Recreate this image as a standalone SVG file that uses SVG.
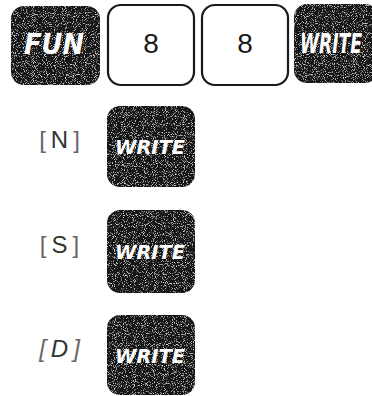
<svg xmlns="http://www.w3.org/2000/svg" width="372" height="396" viewBox="0 0 372 396">
  <defs>
    <filter id="grain" x="0" y="0" width="100%" height="100%">
      <feTurbulence type="fractalNoise" baseFrequency="1.1" numOctaves="1" seed="3" result="n"/>
      <feColorMatrix in="n" type="matrix" values="0 0 0 0 0.75  0 0 0 0 0.75  0 0 0 0 0.75  0 0 0 -4.5 2.0" result="dots"/>
      <feComposite in="dots" in2="SourceGraphic" operator="in" result="d2"/>
      <feMerge><feMergeNode in="SourceGraphic"/><feMergeNode in="d2"/></feMerge>
    </filter>
  </defs>
  <style>
    .dark { fill: #161616; }
    .light { fill: #ffffff; stroke: #1a1a1a; stroke-width: 2.2; }
    .kt { font-family: "DejaVu Sans", "Liberation Sans", sans-serif; font-weight: bold; font-style: italic; fill: #ffffff; text-anchor: middle; }
    .num { font-family: "Liberation Sans", Arial, sans-serif; font-size: 28px; fill: #1a1a1a; text-anchor: middle; }
    .lbl { font-family: "Liberation Sans", Arial, sans-serif; font-size: 24px; fill: #333333; text-anchor: middle; letter-spacing: 5px; }
    .br { fill: #666666; font-weight: normal; }
  </style>
  <g id="connectors"/>
  <g id="key-fun">
    <rect class="dark" x="11" y="6" width="89" height="79" rx="13" filter="url(#grain)"/>
    <text class="kt" x="54" y="54" font-size="28" textLength="60" lengthAdjust="spacingAndGlyphs">FUN</text>
  </g>
  <g id="key-8a">
    <rect class="light" x="108" y="5" width="86" height="80" rx="13"/>
    <text class="num" x="151" y="53">8</text>
  </g>
  <g id="key-8b">
    <rect class="light" x="202" y="5" width="86" height="80" rx="13"/>
    <text class="num" x="245" y="53">8</text>
  </g>
  <g id="key-write-top">
    <rect class="dark" x="294" y="4" width="84" height="79" rx="13" filter="url(#grain)"/>
    <text class="kt" x="331" y="53" font-size="26" textLength="62" lengthAdjust="spacingAndGlyphs">WRITE</text>
  </g>
  <g id="label-n">
    <text class="lbl" x="62" y="148"><tspan class="br">[</tspan>N<tspan class="br">]</tspan></text>
  </g>
  <g id="key-write-n">
    <rect class="dark" x="107" y="106" width="88" height="81" rx="13" filter="url(#grain)"/>
    <text class="kt" x="150" y="154" font-size="20" textLength="70" lengthAdjust="spacingAndGlyphs">WRITE</text>
  </g>
  <g id="label-s">
    <text class="lbl" x="62" y="253"><tspan class="br">[</tspan>S<tspan class="br">]</tspan></text>
  </g>
  <g id="key-write-s">
    <rect class="dark" x="107" y="210" width="88" height="83" rx="13" filter="url(#grain)"/>
    <text class="kt" x="150" y="259" font-size="20" textLength="70" lengthAdjust="spacingAndGlyphs">WRITE</text>
  </g>
  <g id="label-d">
    <text class="lbl" x="62" y="357" font-style="italic"><tspan class="br">[</tspan>D<tspan class="br">]</tspan></text>
  </g>
  <g id="key-write-d">
    <rect class="dark" x="107" y="315" width="88" height="80" rx="13" filter="url(#grain)"/>
    <text class="kt" x="150" y="363" font-size="20" textLength="70" lengthAdjust="spacingAndGlyphs">WRITE</text>
  </g>
</svg>
